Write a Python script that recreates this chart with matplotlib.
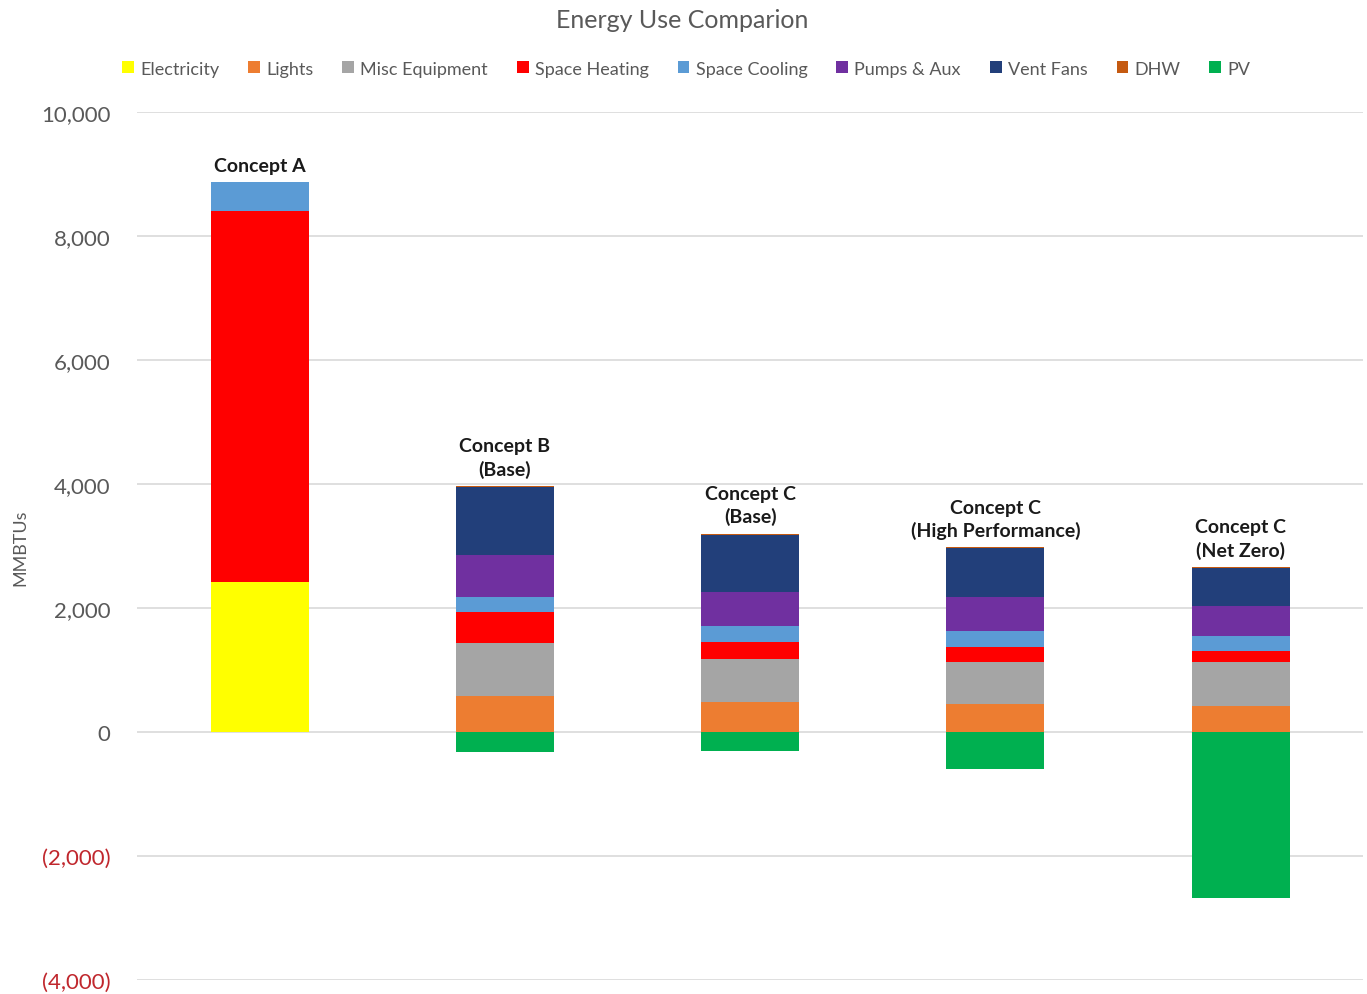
import matplotlib
matplotlib.use("Agg")
import matplotlib.pyplot as plt
from matplotlib.patches import Patch
from matplotlib.ticker import FuncFormatter
import numpy as np

plt.rcParams['font.family'] = ['Lato', 'DejaVu Sans']

concepts = ["Concept A", "Concept B\n(Base)", "Concept C\n(Base)",
            "Concept C\n(High Performance)", "Concept C\n(Net Zero)"]

electricity = [2415, 0, 0, 0, 0]
lights = [0, 586, 489, 452, 425]
misc_equipment = [0, 850, 688, 682, 699]
space_heating = [5995, 495, 280, 232, 177]
space_cooling = [455, 242, 248, 268, 253]
pumps_aux = [0, 683, 548, 538, 483]
vent_fans = [0, 1095, 930, 795, 610]
dhw = [0, 15, 15, 12, 12]
pv = [0, -330, -300, -600, -2680]

series_names = ["Electricity", "Lights", "Misc Equipment", "Space Heating",
                "Space Cooling", "Pumps & Aux", "Vent Fans", "DHW", "PV"]
series_colors = ["#FFFF00", "#ED7D31", "#A5A5A5", "#FF0000", "#5B9BD5",
                 "#7030A0", "#223F7A", "#C55A11", "#00B050"]

positive_series = [electricity, lights, misc_equipment, space_heating,
                   space_cooling, pumps_aux, vent_fans, dhw]

fig = plt.figure(figsize=(13.67, 9.95), dpi=100)
ax = fig.add_axes([0.1002, 0.0141, 0.897, 0.8723])

x = np.arange(len(concepts))
width = 0.4
bottom = np.zeros(len(concepts))
for vals, color in zip(positive_series, series_colors[:8]):
    v = np.array(vals, dtype=float)
    ax.bar(x, v, width, bottom=bottom, color=color, linewidth=0, zorder=3)
    bottom += v
ax.bar(x, pv, width, color=series_colors[8], linewidth=0, zorder=3)

for xi, top, label in zip(x, bottom, concepts):
    ax.annotate(label, (xi, top), xytext=(0, 6), textcoords="offset points",
                ha="center", va="bottom", fontsize=14, fontweight="bold",
                color="#1a1a1a", linespacing=1.35)

ax.set_xlim(-0.5, 4.5)
ax.set_ylim(-4000, 10000)
ax.set_yticks(np.arange(-4000, 10001, 2000))


def fmt(v, pos):
    if v < 0:
        return "({:,.0f})".format(-v)
    return "{:,.0f}".format(v)


ax.yaxis.set_major_formatter(FuncFormatter(fmt))
ax.tick_params(axis="y", length=0, pad=19, labelsize=16, labelcolor="#595959")
for lbl, val in zip(ax.get_yticklabels(), ax.get_yticks()):
    if val < 0:
        lbl.set_color("#C0272D")
ax.set_xticks([])
ax.grid(axis="y", color="#D9D9D9", linewidth=1.2, zorder=0)
for s in ax.spines.values():
    s.set_visible(False)

fig.text(0.0146, 0.449, "MMBTUs", rotation=90, ha="center", va="center",
         fontsize=13, color="#595959")
fig.text(0.499, 0.979, "Energy Use Comparion", ha="center", va="center",
         fontsize=18, color="#595959")

handles = [Patch(facecolor=c, edgecolor="none") for c in series_colors]
fig.legend(handles, series_names, loc="center", bbox_to_anchor=(0.502, 0.93),
           ncol=9, frameon=False, fontsize=13, labelcolor="#595959",
           handlelength=0.65, handleheight=0.65, handletextpad=0.35,
           columnspacing=1.6)

fig.savefig("out.png", dpi=100, facecolor="white")
